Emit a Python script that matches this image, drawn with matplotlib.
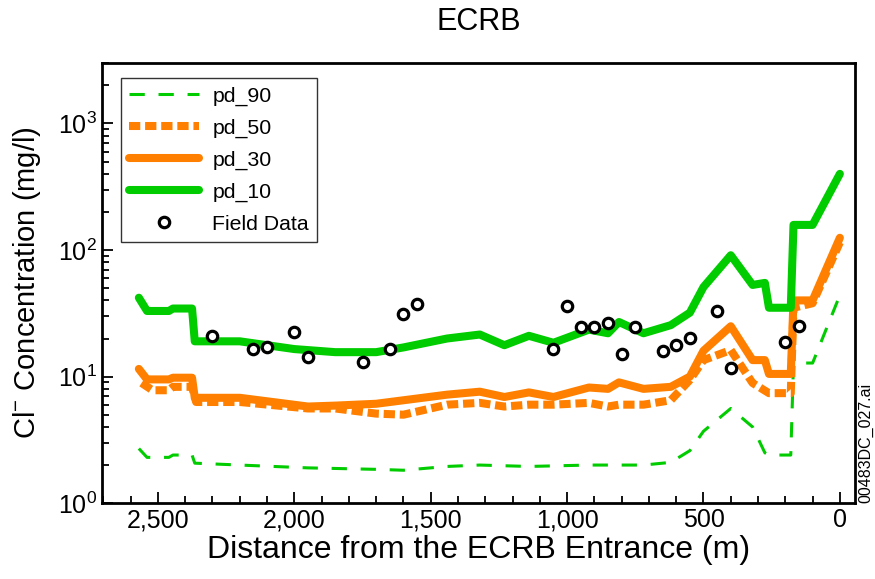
import matplotlib
matplotlib.use("Agg")
import matplotlib.pyplot as plt
from matplotlib.ticker import LogLocator, MultipleLocator, FuncFormatter

plt.rcParams['font.family'] = ['Liberation Sans', 'DejaVu Sans']
plt.rcParams['mathtext.fontset'] = 'custom'
plt.rcParams['mathtext.rm'] = 'Liberation Sans'
plt.rcParams['mathtext.it'] = 'Liberation Sans'

GREEN = '#00cc00'
ORANGE = '#ff8000'

# distance from entrance (m) and Cl- concentration (mg/l)
pd10_x = [2570, 2540, 2460, 2445, 2375, 2365, 2200, 2000, 1850, 1700, 1600, 1440, 1320,
          1230, 1140, 1050, 920, 850, 810, 720, 620, 550, 500, 400, 320, 275, 260, 180,
          170, 100, 0]
pd10_y = [42, 33, 33, 34.5, 34.5, 19, 19, 16.5, 15.6, 15.6, 17, 20, 21.5,
          17.7, 21, 18.5, 23.5, 22, 27, 22, 25.5, 32, 51, 91, 53, 55, 35, 35,
          158, 158, 400]

pd30_x = [2570, 2540, 2460, 2445, 2375, 2365, 2200, 1950, 1850, 1700, 1440, 1320,
          1230, 1140, 1050, 920, 850, 810, 720, 620, 550, 500, 400, 320, 275, 260,
          180, 170, 100, 0]
pd30_y = [11.5, 9.5, 9.5, 9.8, 9.8, 6.8, 6.8, 5.8, 5.9, 6.1, 7.2, 7.6,
          6.9, 7.5, 6.9, 8.2, 8.0, 9.0, 8.0, 8.3, 10.0, 16, 25, 13.5, 13.5, 10.5,
          10.5, 40, 40, 125]

pd50_x = [2560, 2520, 2460, 2445, 2375, 2360, 2200, 1950, 1850, 1700, 1600, 1440,
          1320, 1230, 1140, 1050, 920, 850, 810, 720, 620, 550, 500, 400, 320, 260,
          180, 170, 100, 0]
pd50_y = [8.9, 7.8, 7.8, 8.3, 8.3, 6.3, 6.3, 5.6, 5.6, 5.1, 5.0, 6.0,
          6.2, 5.8, 6.0, 6.0, 6.2, 5.8, 6.0, 6.0, 6.5, 9.4, 13.5, 16.2, 8.9, 7.4,
          7.4, 35, 38, 115]

pd90_x = [2570, 2540, 2460, 2445, 2375, 2365, 2200, 1950, 1700, 1600, 1440, 1320,
          1140, 920, 810, 720, 620, 550, 500, 400, 320, 275, 260, 180, 170, 100, 0]
pd90_y = [2.7, 2.3, 2.3, 2.4, 2.4, 2.07, 2.0, 1.9, 1.85, 1.82, 1.95, 2.0,
          1.95, 2.0, 2.0, 2.0, 2.1, 2.6, 3.7, 5.6, 4.0, 2.5, 2.4, 2.4, 12.8, 12.8, 44]

field_x = [2300, 2150, 2100, 2000, 1950, 1750, 1650, 1600, 1550, 1050, 1000, 950,
           900, 850, 800, 750, 650, 600, 550, 450, 400, 200, 150]
field_y = [20.9, 16.5, 17.1, 22.5, 14.3, 13.0, 16.5, 31.2, 37.4, 16.5, 36.1, 24.6,
           24.6, 26.5, 15.1, 24.6, 15.9, 17.7, 20.2, 33, 11.7, 18.7, 25]

fig = plt.figure(figsize=(8.75, 5.79), dpi=100)
ax = fig.add_axes([0.1166, 0.131, 0.8604, 0.760])

ax.plot(pd90_x, pd90_y, color=GREEN, lw=2.2, dashes=(5, 4.5), label='pd_90')
ax.plot(pd50_x, pd50_y, color=ORANGE, lw=5.8, dashes=(1.4, 0.6), label='pd_50')
ax.plot(pd30_x, pd30_y, color=ORANGE, lw=5.8, solid_capstyle='round', label='pd_30')
ax.plot(pd10_x, pd10_y, color=GREEN, lw=5.8, solid_capstyle='round', label='pd_10')
ax.plot(field_x, field_y, 'o', ms=7.5, mfc='white', mec='black', mew=2.3,
        ls='none', label='Field Data')

ax.set_yscale('log')
ax.set_ylim(1, 3000)
ax.set_xlim(2705, -55)

ax.xaxis.set_major_locator(MultipleLocator(500))
ax.xaxis.set_minor_locator(MultipleLocator(100))
ax.xaxis.set_major_formatter(FuncFormatter(lambda v, p: f'{int(v):,}'))
ax.yaxis.set_major_locator(LogLocator(base=10, numticks=10))
ax.yaxis.set_minor_locator(LogLocator(base=10, subs=range(2, 10), numticks=10))

ax.tick_params(which='both', direction='in', top=False, right=False, labelsize=18, width=1.3)
ax.tick_params(which='major', length=8)
ax.tick_params(which='minor', length=5)
for s in ax.spines.values():
    s.set_linewidth(2)

ax.set_title('ECRB', fontsize=22, pad=24)
ax.set_xlabel('Distance from the ECRB Entrance (m)', fontsize=23)
ax.set_ylabel('Cl$^{-}$ Concentration (mg/l)', fontsize=21)
ax.xaxis.set_label_coords(0.5, -0.072)
ax.yaxis.set_label_coords(-0.078, 0.5)

leg = ax.legend(loc='upper left', bbox_to_anchor=(0.025, 0.966), borderaxespad=0,
                fontsize=15.3, frameon=True, fancybox=False, handlelength=3.3,
                borderpad=0.4, labelspacing=0.6, handletextpad=0.6)
leg.get_frame().set_edgecolor('black')
leg.get_frame().set_linewidth(1.0)

fig.text(0.9897, 0.235, '00483DC_027.ai', rotation=90, fontsize=11.5,
         ha='center', va='center')

fig.savefig('out.png', dpi=100)
